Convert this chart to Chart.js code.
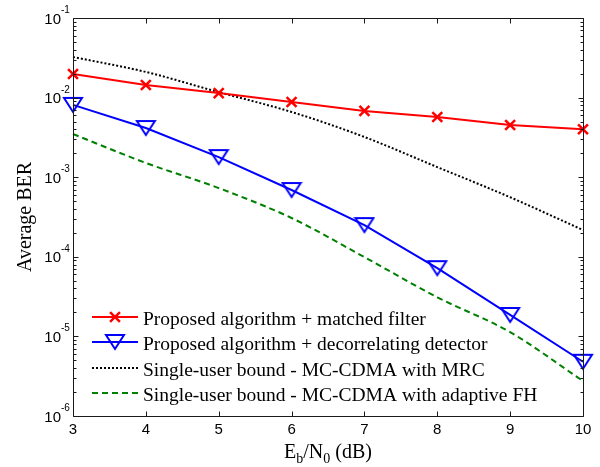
<!DOCTYPE html>
<html>
<head>
<meta charset="utf-8">
<script src="https://cdn.jsdelivr.net/npm/chart.js@4.4.1/dist/chart.umd.min.js"></script>
<style>
html,body{margin:0;padding:0;background:#fff;}
canvas{display:block;}
</style>
</head>
<body>
<canvas id="c" width="600" height="467"></canvas>
<script>
// ---- data ----
const ebn0 = [3, 4, 5, 6, 7, 8, 9, 10];
const berMatchedFilter = [0.0198, 0.0144, 0.0114, 0.0088, 0.0068, 0.0057, 0.00453, 0.0040];
const berDecorrelating = [0.0081, 0.00415, 0.00179, 0.00069, 0.00025, 0.000072, 0.0000186, 0.0000048];
const berBoundMRC = [0.0324, 0.021, 0.0117, 0.0066, 0.0032, 0.00134, 0.00056, 0.000217];
const berBoundAdaptiveFH = [0.00349, 0.00151, 0.00073, 0.000307, 0.000099, 0.000031, 0.0000113, 0.00000275];
const seriesLabels = [
  'Proposed algorithm + matched filter',
  'Proposed algorithm + decorrelating detector',
  'Single-user bound - MC-CDMA with MRC',
  'Single-user bound - MC-CDMA with adaptive FH'
];
const xTickValues = [3, 4, 5, 6, 7, 8, 9, 10];
const yTickExponents = [-6, -5, -4, -3, -2, -1];

function pts(ys){ return ebn0.map((x,i)=>({x:x, y:ys[i]})); }

// hollow downward triangle marker, centred on its bounding box
const tri = document.createElement('canvas');
tri.width = 22; tri.height = 22;
(function(){
  const c = tri.getContext('2d');
  c.strokeStyle = '#0000ff'; c.lineWidth = 2; c.lineJoin = 'miter';
  c.beginPath();
  c.moveTo(2, 4); c.lineTo(20, 4); c.lineTo(11, 18); c.closePath();
  c.stroke();
})();

const SERIF = '"Liberation Serif", "Times New Roman", serif';
const SANS = '"Liberation Sans", Arial, sans-serif';

const deco = {
  id: 'deco',
  afterDraw(chart){
    const ctx = chart.ctx, a = chart.chartArea;
    const sx = chart.scales.x, sy = chart.scales.y;
    ctx.save();
    ctx.strokeStyle = '#1a1a1a';
    ctx.lineWidth = 1;
    const L = Math.round(a.left)+0.5, R = Math.round(a.right)+0.5, T = Math.round(a.top)+0.5, B = Math.round(a.bottom)+0.5;
    ctx.beginPath();
    ctx.rect(L, T, R-L, B-T);
    ctx.stroke();
    // x ticks (bottom & top)
    ctx.beginPath();
    xTickValues.forEach(v=>{
      const px = Math.round(sx.getPixelForValue(v))+0.5;
      ctx.moveTo(px, B); ctx.lineTo(px, B-5);
      ctx.moveTo(px, T); ctx.lineTo(px, T+5);
    });
    // y ticks major + minor (left & right)
    yTickExponents.forEach(p=>{
      const py = Math.round(sy.getPixelForValue(Math.pow(10,p)))+0.5;
      ctx.moveTo(L, py); ctx.lineTo(L+5, py);
      ctx.moveTo(R, py); ctx.lineTo(R-5, py);
      if (p < -1) {
        for (let m=2; m<=9; m++){
          const my = Math.round(sy.getPixelForValue(m*Math.pow(10,p)))+0.5;
          ctx.moveTo(L, my); ctx.lineTo(L+3, my);
          ctx.moveTo(R, my); ctx.lineTo(R-3, my);
        }
      }
    });
    ctx.stroke();

    // y tick labels 10^p
    ctx.fillStyle = '#000';
    yTickExponents.forEach(p=>{
      const py = sy.getPixelForValue(Math.pow(10,p));
      ctx.font = '15px ' + SANS;
      ctx.textAlign = 'right'; ctx.textBaseline = 'alphabetic';
      ctx.fillText('10', a.left - 12, py + 5.5);
      ctx.font = '10px ' + SANS;
      ctx.textAlign = 'left';
      ctx.fillText(String(p), a.left - 12, py - 5);
    });

    // y title
    ctx.save();
    ctx.translate(a.left - 47, (a.top + a.bottom)/2);
    ctx.rotate(-Math.PI/2);
    ctx.font = '20px ' + SERIF;
    ctx.textAlign = 'center'; ctx.textBaseline = 'middle';
    ctx.fillText('Average BER', 0, 0);
    ctx.restore();

    // x title E_b/N_0 (dB)
    const parts = [['E',20,0],['b',14,5],['/N',20,0],['0',14,5],[' (dB)',20,0]];
    let total = 0;
    parts.forEach(pt=>{ ctx.font = pt[1]+'px '+SERIF; total += ctx.measureText(pt[0]).width; });
    let xx = (a.left + a.right)/2 - total/2;
    const base = a.bottom + 42;
    ctx.textAlign = 'left'; ctx.textBaseline = 'alphabetic';
    parts.forEach(pt=>{
      ctx.font = pt[1]+'px '+SERIF;
      ctx.fillText(pt[0], xx, base + pt[2]);
      xx += ctx.measureText(pt[0]).width;
    });

    // legend (no box)
    const rows = [a.bottom-99, a.bottom-74, a.bottom-48, a.bottom-23];
    chart.data.datasets.forEach((ds, i)=>{
      const y = rows[i];
      const x0 = a.left + 19, x1 = a.left + 65, xm = (x0+x1)/2;
      ctx.save();
      ctx.strokeStyle = ds.borderColor;
      ctx.lineWidth = ds.borderWidth;
      ctx.setLineDash(ds.borderDash || []);
      ctx.beginPath(); ctx.moveTo(x0, y); ctx.lineTo(x1, y); ctx.stroke();
      ctx.setLineDash([]);
      if (ds.pointRadius > 0) {
        ctx.lineWidth = ds.pointBorderWidth;
        ctx.strokeStyle = ds.pointBorderColor;
        ctx.fillStyle = 'rgba(0,0,0,0)';
        Chart.helpers.drawPoint(ctx, {pointStyle: ds.pointStyle, radius: ds.pointRadius, rotation: 0, borderWidth: ds.pointBorderWidth}, xm, y);
      }
      ctx.restore();
      ctx.fillStyle = '#000';
      ctx.font = '19.5px ' + SERIF;
      ctx.textAlign = 'left'; ctx.textBaseline = 'alphabetic';
      ctx.fillText(seriesLabels[i], a.left + 70, y + 7.5);
    });
    ctx.restore();
  }
};

new Chart(document.getElementById('c'), {
  type: 'line',
  data: {
    datasets: [
      { label: seriesLabels[0], data: pts(berMatchedFilter), borderColor: '#ff0000', borderWidth: 2,
        pointStyle: 'crossRot', pointRadius: 7, pointBorderWidth: 2.5, pointBorderColor: '#ff0000',
        pointBackgroundColor: 'rgba(0,0,0,0)', tension: 0, clip: false },
      { label: seriesLabels[1], data: pts(berDecorrelating), borderColor: '#0000ff', borderWidth: 2,
        pointStyle: tri, pointRadius: 9, pointBorderWidth: 2, pointBorderColor: '#0000ff',
        pointBackgroundColor: 'rgba(0,0,0,0)', tension: 0, clip: false },
      { label: seriesLabels[2], data: pts(berBoundMRC), borderColor: '#000000', borderWidth: 2,
        borderDash: [2, 2], pointRadius: 0, cubicInterpolationMode: 'monotone', clip: false },
      { label: seriesLabels[3], data: pts(berBoundAdaptiveFH), borderColor: '#008000', borderWidth: 2,
        borderDash: [6, 4], pointRadius: 0, cubicInterpolationMode: 'monotone', clip: false }
    ]
  },
  options: {
    responsive: false,
    animation: false,
    devicePixelRatio: 1,
    layout: { padding: { top: 18, right: 17, left: 0, bottom: 0 } },
    plugins: { legend: { display: false }, tooltip: { enabled: false } },
    scales: {
      x: {
        type: 'linear', min: 3, max: 10,
        grid: { display: false, drawTicks: false },
        border: { display: false },
        ticks: { stepSize: 1, padding: 5, color: '#000', font: { family: SANS, size: 15 } },
        afterFit(s){ s.height = 51; }
      },
      y: {
        type: 'logarithmic', min: 1e-6, max: 1e-1,
        grid: { display: false, drawTicks: false },
        border: { display: false },
        ticks: { display: false },
        afterFit(s){ s.width = 73; }
      }
    }
  },
  plugins: [deco]
});
</script>
</body>
</html>
